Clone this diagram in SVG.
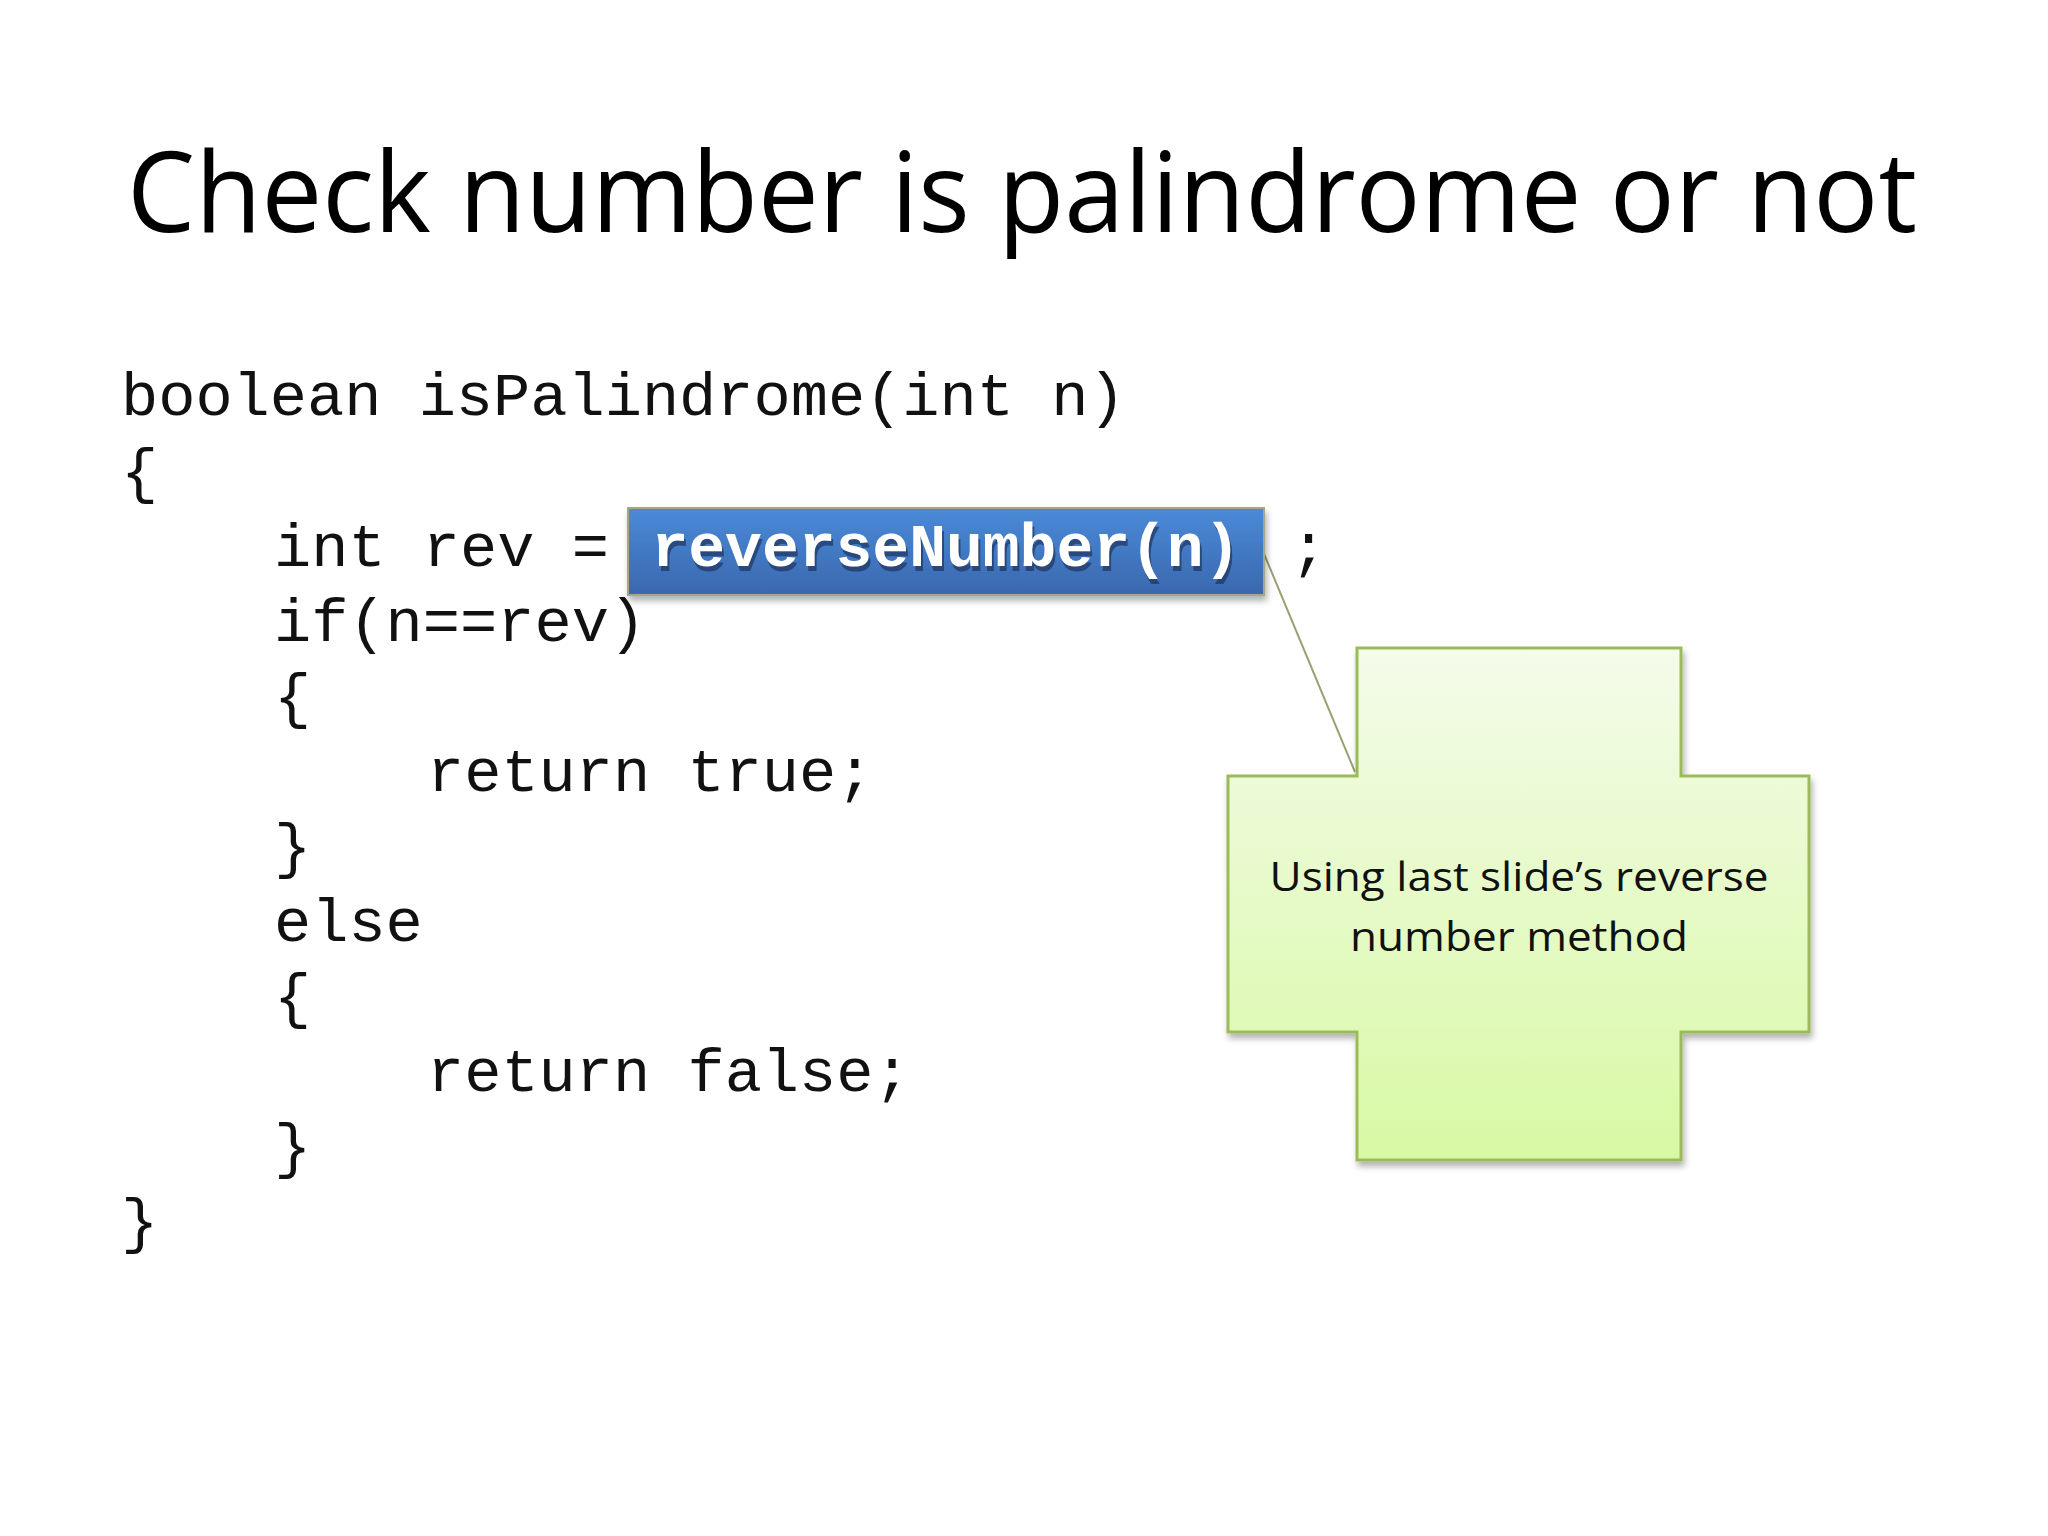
<svg xmlns="http://www.w3.org/2000/svg" width="2048" height="1536" viewBox="0 0 2048 1536">
<defs>
<linearGradient id="blue" x1="0" y1="0" x2="0" y2="1"><stop offset="0" stop-color="#4a8ad8"/><stop offset="1" stop-color="#3a68ae"/></linearGradient>
<linearGradient id="green" x1="0" y1="0" x2="0" y2="1"><stop offset="0" stop-color="#f4fbea"/><stop offset="1" stop-color="#d8f9a4"/></linearGradient>
<filter id="sh" x="-10%" y="-10%" width="120%" height="130%"><feDropShadow dx="2" dy="5" stdDeviation="3" flood-color="#000" flood-opacity="0.3"/></filter>
</defs>
<style>
.code{font-family:"Liberation Mono",monospace;font-size:62px;fill:#111}
.call{font-family:"Open Sans",sans-serif;font-size:41px;fill:#111}
</style>
<rect width="2048" height="1536" fill="#fff"/>
<text x="127" y="232" font-family="Open Sans, sans-serif" font-size="112" textLength="1790" lengthAdjust="spacingAndGlyphs" fill="#000">Check number is palindrome or not</text>
<g id="code" class="code">
<text x="121" y="415" class="code" xml:space="preserve">boolean isPalindrome(int n)</text>
<text x="121" y="491" class="code">{</text>
<text x="274" y="566" class="code">int rev =</text>
<text x="1290" y="566" class="code">;</text>
<text x="274" y="641" class="code">if(n==rev)</text>
<text x="274" y="716" class="code">{</text>
<text x="427" y="791" class="code">return true;</text>
<text x="274" y="866" class="code">}</text>
<text x="274" y="941" class="code">else</text>
<text x="274" y="1016" class="code">{</text>
<text x="427" y="1091" class="code">return false;</text>
<text x="274" y="1166" class="code">}</text>
<text x="121" y="1241" class="code">}</text>
</g>
<g id="connectors">
<line x1="1262" y1="549" x2="1355" y2="772" stroke="#9aa070" stroke-width="2"/>
</g>
<g id="box">
<rect x="628" y="508" width="636" height="87" fill="url(#blue)" stroke="#a8a880" stroke-width="2" filter="url(#sh)"/>
<text x="946" y="568" text-anchor="middle" font-family="Liberation Mono, monospace" font-weight="bold" font-size="61" fill="#1a2a50" opacity="0.6" textLength="589" lengthAdjust="spacingAndGlyphs" transform="translate(2,3)">reverseNumber(n)</text>
<text x="946" y="566" text-anchor="middle" font-family="Liberation Mono, monospace" font-weight="bold" font-size="61" fill="#fff" textLength="589" lengthAdjust="spacingAndGlyphs">reverseNumber(n)</text>
</g>
<g id="callout">
<path d="M1357 648 H1681 V776 H1809 V1032 H1681 V1160 H1357 V1032 H1228 V776 H1357 Z" fill="url(#green)" stroke="#9bbb59" stroke-width="3" filter="url(#sh)"/>
<text x="1519" y="891" text-anchor="middle" class="call" textLength="499" lengthAdjust="spacingAndGlyphs">Using last slide’s reverse</text>
<text x="1519" y="951" text-anchor="middle" class="call" textLength="338" lengthAdjust="spacingAndGlyphs">number method</text>
</g>
</svg>
